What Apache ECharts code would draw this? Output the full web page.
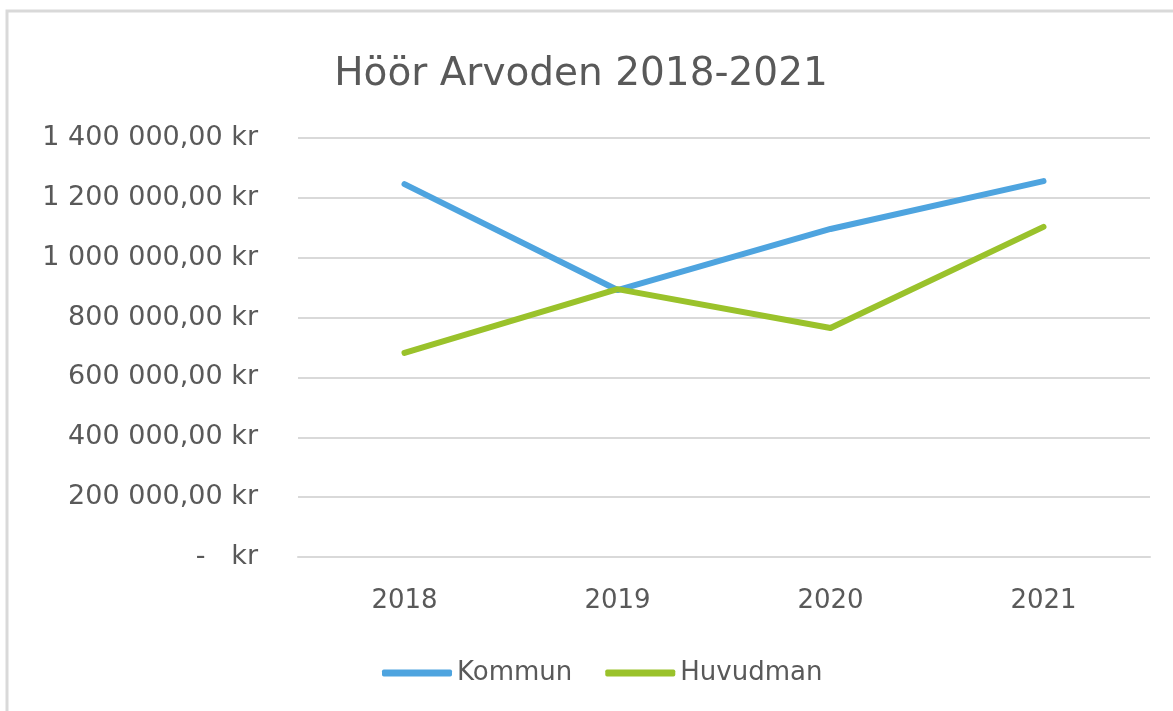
<!DOCTYPE html>
<html>
<head>
<meta charset="utf-8">
<script src="https://cdn.jsdelivr.net/npm/echarts@6/dist/echarts.min.js"></script>
<style>
  html, body { margin: 0; padding: 0; background: #fff; }
  #chart { width: 1173px; height: 711px; }
</style>
</head>
<body>
<div id="chart"></div>
<script>
// data
var years = ["2018", "2019", "2020", "2021"];
var kommun = [1246000, 892000, 1096000, 1256000];
var huvudman = [682000, 895000, 765000, 1103000];

var textGrey = "#595959";
var fontName = "DejaVu Sans";

function krLabel(v) {
  if (v === 0) return "-   kr";
  var s = String(v).replace(/\B(?=(\d{3})+(?!\d))/g, " ");
  return s + ",00 kr";
}

var myChart = echarts.init(document.getElementById("chart"));
myChart.setOption({
  animation: false,
  graphic: [
    {
      type: "rect",
      shape: { x: 7, y: 11, width: 1220, height: 760 },
      style: { fill: "none", stroke: "#d9d9d9", lineWidth: 3 },
      silent: true
    }
  ],
  title: {
    text: "Höör Arvoden 2018-2021",
    left: 576,
    top: 50,
    textAlign: "center",
    textStyle: {
      fontFamily: fontName,
      fontSize: 39,
      fontWeight: "normal",
      color: textGrey
    }
  },
  legend: {
    left: 377,
    top: 655,
    itemWidth: 70,
    itemHeight: 7,
    itemGap: 33,
    icon: "roundRect",
    textStyle: {
      fontFamily: fontName,
      fontSize: 26,
      color: textGrey
    },
    data: ["Kommun", "Huvudman"]
  },
  grid: {
    left: 298,
    right: 23,
    top: 138,
    bottom: 154
  },
  xAxis: {
    type: "category",
    data: years,
    boundaryGap: true,
    axisLine: { show: true, lineStyle: { color: "#d9d9d9", width: 2 } },
    axisTick: { show: false },
    axisLabel: {
      margin: 31,
      fontFamily: fontName,
      fontSize: 26,
      color: textGrey
    }
  },
  yAxis: {
    type: "value",
    min: 0,
    max: 1400000,
    interval: 200000,
    axisLine: { show: false },
    axisTick: { show: false },
    splitLine: { lineStyle: { color: "#d9d9d9", width: 2 } },
    axisLabel: {
      margin: 40,
      fontFamily: fontName,
      fontSize: 27,
      color: textGrey,
      formatter: krLabel
    }
  },
  series: [
    {
      name: "Kommun",
      type: "line",
      data: kommun,
      symbol: "none",
      color: "#4ea4df",
      lineStyle: { width: 6, cap: "round", join: "round" }
    },
    {
      name: "Huvudman",
      type: "line",
      data: huvudman,
      symbol: "none",
      color: "#9ac22b",
      lineStyle: { width: 6, cap: "round", join: "round" }
    }
  ]
});
</script>
</body>
</html>
